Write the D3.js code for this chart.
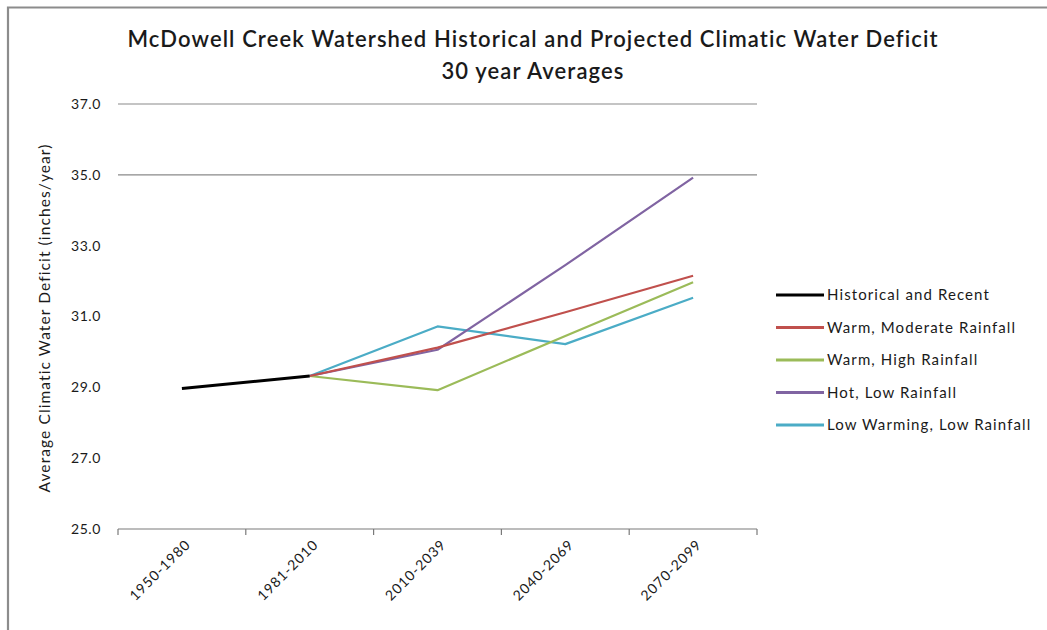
<!DOCTYPE html>
<html>
<head>
<meta charset="utf-8">
<script src="https://cdn.jsdelivr.net/npm/d3@7"></script>
<style>
  html, body { margin: 0; padding: 0; background: #fff; }
  svg { display: block; }
  text { font-family: Lato, "Open Sans", sans-serif; fill: #1a1a1a; }
</style>
</head>
<body>
<svg id="chart" width="1047" height="630"></svg>
<script>
// Periods on the category axis
const periods = ["1950-1980", "1981-2010", "2010-2039", "2040-2069", "2070-2099"];

// Climatic water deficit, inches/year (null = no value for that period)
const historical       = [28.97, 29.32, null, null, null];
const warmModerate     = [null, 29.32, 30.12, 31.12, 32.15];
const warmHigh         = [null, 29.32, 28.92, 30.45, 31.97];
const hotLow           = [null, 29.32, 30.06, 32.45, 34.92];
const lowWarmingLow    = [null, 29.32, 30.72, 30.22, 31.53];

const seriesNames  = ["Historical and Recent", "Warm, Moderate Rainfall", "Warm, High Rainfall",
                      "Hot, Low Rainfall", "Low Warming, Low Rainfall"];
const seriesValues = [historical, warmModerate, warmHigh, hotLow, lowWarmingLow];
const seriesColors = ["#000000", "#C0504D", "#9BBB59", "#8064A2", "#4BACC6"];
const seriesWidths = [3, 2.2, 2.2, 2.2, 2.2];

const yTicks = [25, 27, 29, 31, 33, 35, 37];
const gridTicks = [35, 37];

const svg = d3.select("#chart");

// outer frame
svg.append("path")
  .attr("d", "M8,640 L8,7.5 L1060,7.5")
  .attr("fill", "none").attr("stroke", "#8c8c8c").attr("stroke-width", 2.2);

const plot = { left: 118, right: 757, top: 104, bottom: 529 };

const x = d3.scaleBand().domain(periods).range([plot.left, plot.right]).paddingInner(0).paddingOuter(0);
const y = d3.scaleLinear().domain([25, 37]).range([plot.bottom, plot.top]);

// horizontal gridlines
svg.append("g").selectAll("line").data(gridTicks).join("line")
  .attr("x1", plot.left).attr("x2", plot.right)
  .attr("y1", d => y(d)).attr("y2", d => y(d))
  .attr("stroke", "#8a8a8a").attr("stroke-width", 1.2);

// y tick labels
svg.append("g").selectAll("text").data(yTicks).join("text")
  .attr("x", 101).attr("y", d => y(d)).attr("dy", "0.35em")
  .attr("text-anchor", "end").attr("font-size", 14).attr("letter-spacing", 0.6)
  .text(d => d3.format(".1f")(d));

// category axis
const xAxis = svg.append("g").attr("transform", `translate(0,${plot.bottom})`);
xAxis.append("line").attr("x1", plot.left).attr("x2", plot.right)
  .attr("stroke", "#7a7a7a").attr("stroke-width", 1.2);
const bounds = periods.map(p => x(p)).concat([x(periods[periods.length - 1]) + x.bandwidth()]);
xAxis.selectAll("line.tick").data(bounds).join("line").attr("class", "tick")
  .attr("x1", d => d).attr("x2", d => d).attr("y1", 0).attr("y2", 6)
  .attr("stroke", "#7a7a7a").attr("stroke-width", 1.2);
xAxis.selectAll("text").data(periods).join("text")
  .attr("transform", d => `translate(${x(d) + x.bandwidth() / 2 + 6},${13}) rotate(-45)`)
  .attr("text-anchor", "end").attr("dy", "0.35em").attr("font-size", 14).attr("letter-spacing", 1)
  .text(d => d);

// series lines
const line = d3.line()
  .defined(d => d.v !== null)
  .x(d => x(d.p) + x.bandwidth() / 2)
  .y(d => y(d.v));

// projections drawn first, historical on top
const order = [4, 3, 2, 1, 0];
svg.append("g").selectAll("path").data(order).join("path")
  .attr("d", i => line(periods.map((p, j) => ({ p, v: seriesValues[i][j] }))))
  .attr("fill", "none")
  .attr("stroke", i => seriesColors[i])
  .attr("stroke-width", i => seriesWidths[i])
  .attr("stroke-linejoin", "round");

// titles
svg.append("text").attr("x", 533).attr("y", 47).attr("text-anchor", "middle")
  .attr("font-size", 22).attr("font-weight", 600).attr("letter-spacing", 1.1)
  .text("McDowell Creek Watershed Historical and Projected Climatic Water Deficit");
svg.append("text").attr("x", 533).attr("y", 79).attr("text-anchor", "middle")
  .attr("font-size", 22).attr("font-weight", 600).attr("letter-spacing", 1.1)
  .text("30 year Averages");

// y axis title
svg.append("text")
  .attr("transform", "translate(50,318) rotate(-90)")
  .attr("text-anchor", "middle").attr("font-size", 15.5).attr("letter-spacing", 1.1)
  .text("Average Climatic Water Deficit (inches/year)");

// legend
const legend = svg.append("g").attr("transform", "translate(776,295)");
const items = legend.selectAll("g").data(seriesNames).join("g")
  .attr("transform", (d, i) => `translate(0,${i * 32.5})`);
items.append("line").attr("x1", 0).attr("x2", 48)
  .attr("stroke", (d, i) => seriesColors[i]).attr("stroke-width", 3);
items.append("text").attr("x", 51).attr("dy", "0.35em").attr("font-size", 15).attr("letter-spacing", 1.1)
  .text(d => d);
</script>
</body>
</html>
